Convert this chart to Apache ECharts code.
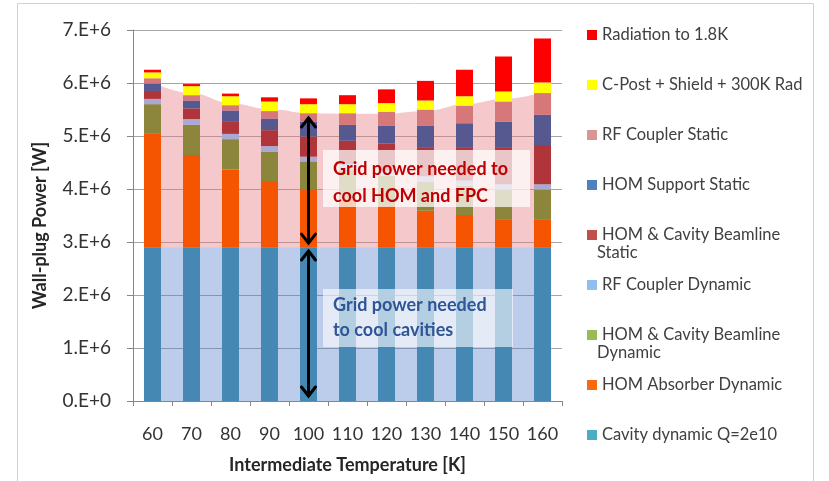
<!DOCTYPE html>
<html><head><meta charset="utf-8">
<script src="https://cdn.jsdelivr.net/npm/echarts@6/dist/echarts.min.js"></script>
<style>html,body{margin:0;padding:0;background:#fff}#c{width:829px;height:481px}</style>
</head><body><div id="c"></div>
<script>
// ---- data (W) ----
const categories = ['60','70','80','90','100','110','120','130','140','150','160'];
const cavityDynamic      = [2.90e6,2.90e6,2.90e6,2.90e6,2.90e6,2.90e6,2.90e6,2.90e6,2.90e6,2.90e6,2.90e6];
const homAbsorberDyn     = [2.14e6,1.74e6,1.47e6,1.25e6,1.08e6,0.92e6,0.80e6,0.69e6,0.61e6,0.53e6,0.53e6];
const homCavBeamlineDyn  = [0.56e6,0.57e6,0.57e6,0.55e6,0.54e6,0.55e6,0.55e6,0.55e6,0.55e6,0.56e6,0.56e6];
const rfCouplerDyn       = [0.10e6,0.11e6,0.10e6,0.11e6,0.09e6,0.10e6,0.10e6,0.10e6,0.10e6,0.10e6,0.10e6];
const homCavBeamlineStat = [0.15e6,0.20e6,0.24e6,0.30e6,0.38e6,0.44e6,0.51e6,0.55e6,0.63e6,0.70e6,0.74e6];
const homSupportStat     = [0.14e6,0.15e6,0.20e6,0.22e6,0.28e6,0.30e6,0.33e6,0.40e6,0.45e6,0.48e6,0.57e6];
const rfCouplerStat      = [0.10e6,0.10e6,0.10e6,0.14e6,0.16e6,0.22e6,0.27e6,0.31e6,0.33e6,0.38e6,0.41e6];
const cPostShieldRad     = [0.11e6,0.17e6,0.17e6,0.18e6,0.17e6,0.17e6,0.16e6,0.17e6,0.18e6,0.19e6,0.20e6];
const radiation18K       = [0.05e6,0.04e6,0.05e6,0.08e6,0.11e6,0.17e6,0.26e6,0.37e6,0.50e6,0.66e6,0.83e6];

// shaded bands (category index positions, values)
const bandX        = [-0.22, 1, 2, 3, 4, 5, 6, 7, 8, 9, 10.22];
const hotBandTop   = [6.08e6,5.81e6,5.62e6,5.51e6,5.43e6,5.42e6,5.42e6,5.47e6,5.60e6,5.70e6,5.87e6];
const coldBandTop  = 2.9e6;

const FONT = 'Lato';
const seriesDefs = [
  {name:'Cavity dynamic Q=2e10', data:cavityDynamic, color:'#4588B4', legend:'#4BACC6'},
  {name:'HOM Absorber Dynamic', data:homAbsorberDyn, color:'#F55500', legend:'#F86A10'},
  {name:'HOM & Cavity Beamline Dynamic', data:homCavBeamlineDyn, color:'#8C863C', legend:'#9BBB59', split:'Dynamic'},
  {name:'RF Coupler Dynamic', data:rfCouplerDyn, color:'#A9A9D3', legend:'#8DC0EE'},
  {name:'HOM & Cavity Beamline Static', data:homCavBeamlineStat, color:'#B0353A', legend:'#C0504D', split:'Static'},
  {name:'HOM Support Static', data:homSupportStat, color:'#55598F', legend:'#4F81BD'},
  {name:'RF Coupler Static', data:rfCouplerStat, color:'#D6777A', legend:'#D99594'},
  {name:'C-Post + Shield + 300K Rad', data:cPostShieldRad, color:'#FFFF00', legend:'#FFFF00'},
  {name:'Radiation to 1.8K', data:radiation18K, color:'#FF0000', legend:'#FF0000'}
];

const chart = echarts.init(document.getElementById('c'));

const legendOrder = seriesDefs.slice().reverse();
const legends = legendOrder.map((s, i) => ({
  orient:'vertical', left:582, top:30 + 50*i - 10,
  itemWidth:10, itemHeight:10, icon:'rect', itemGap:0,
  selectedMode:false,
  data:[{name:s.name, itemStyle:{color:s.legend}}],
  formatter: name => s.split ? name.slice(0, name.length - s.split.length - 1) : name,
  textStyle:{fontFamily:FONT, fontSize:16.5, color:'#404040', lineHeight:20}
}));

const barSeries = seriesDefs.map(s => ({
  type:'bar', name:s.name, stack:'total', data:s.data, barWidth:17,
  itemStyle:{color:s.color}, z:3, emphasis:{disabled:true}
}));

chart.setOption({
  animation:false,
  grid:{left:133, right:267, top:30, bottom:80},
  legend:legends,
  xAxis:[{
    type:'category', data:categories,
    axisLine:{onZero:false, lineStyle:{color:'#868686'}},
    axisTick:{show:true, length:5, lineStyle:{color:'#868686'}},
    axisLabel:{fontFamily:FONT, fontSize:18, color:'#333', margin:24, interval:0},
    name:'Intermediate Temperature [K]', nameLocation:'middle', nameGap:55,
    nameTextStyle:{fontFamily:FONT, fontSize:18, fontWeight:'bold', color:'#262626'}
  },{
    type:'value', min:-0.5, max:10.5, show:false
  }],
  yAxis:{
    type:'value', min:0, max:7e6, interval:1e6,
    axisLine:{show:true, onZero:false, lineStyle:{color:'#868686'}},
    axisTick:{show:true, length:6, lineStyle:{color:'#868686'}},
    splitLine:{lineStyle:{color:'#A6A6A6'}},
    axisLabel:{fontFamily:FONT, fontSize:19, color:'#333', margin:22,
      formatter: v => (v/1e6).toFixed(0) + '.E+' + (v === 0 ? '0' : '6')},
    name:'Wall-plug Power [W]', nameLocation:'middle', nameGap:84,
    nameTextStyle:{fontFamily:FONT, fontSize:18, fontWeight:'bold', color:'#262626', padding:[0,20,0,0]}
  },
  series:[
    {type:'line', xAxisIndex:1, data:bandX.map((x,i)=>[x, hotBandTop[i]]), smooth:0.4, smoothMonotone:'x',
     symbol:'none', showSymbol:false, lineStyle:{width:0, opacity:0},
     areaStyle:{color:'rgba(230,120,125,0.4)', origin:coldBandTop, opacity:1},
     z:1, silent:true, tooltip:{show:false}},
    {type:'line', xAxisIndex:1, data:[[bandX[0], coldBandTop],[bandX[bandX.length-1], coldBandTop]],
     symbol:'none', showSymbol:false, lineStyle:{width:0, opacity:0},
     areaStyle:{color:'rgba(70,120,200,0.37)', origin:'start', opacity:1},
     z:1, silent:true}
  ].concat(barSeries)
});

function px(cat, v){ return chart.convertToPixel({xAxisIndex:0, yAxisIndex:0}, [cat, v]); }
function arrow(id, top, bot){
  const x = top[0];
  const s = {stroke:'#000', lineWidth:3, fill:null, lineCap:'round', lineJoin:'miter'};
  return [
    {type:'line', id:id+'l', shape:{x1:x, y1:top[1]+1, x2:x, y2:bot[1]-1}, style:s, z:110},
    {type:'polyline', id:id+'t', shape:{points:[[x-7, top[1]+9],[x, top[1]],[x+7, top[1]+9]]}, style:s, z:110},
    {type:'polyline', id:id+'b', shape:{points:[[x-7, bot[1]-9],[x, bot[1]],[x+7, bot[1]-9]]}, style:s, z:110}
  ];
}
const a1t = px('100', 5.34e6), a1b = px('100', 2.98e6);
const a2t = px('100', 2.83e6), a2b = px('100', 0.095e6);

const secondLines = seriesDefs.filter(s => s.split).map(s => {
  const idx = legendOrder.indexOf(s);
  return {type:'text', left:597, top:30 + 50*idx + 14,
    style:{text:s.split, font:'16.5px ' + FONT, fill:'#404040'}, z:100};
});

chart.setOption({
  graphic:[
    {type:'rect', shape:{x:17.5, y:3.5, width:796, height:480}, style:{fill:null, stroke:'#D0D0D0', lineWidth:1}, z:0, silent:true},
    {type:'rect', shape:{x:323, y:150, width:207, height:57}, style:{fill:'rgba(255,255,255,0.72)'}, z:100},
    {type:'text', left:333, top:156, style:{text:'Grid power needed to\ncool HOM and FPC', font:'bold 18px ' + FONT, fill:'#C00000', lineHeight:27}, z:101},
    {type:'rect', shape:{x:323, y:289, width:190, height:58}, style:{fill:'rgba(255,255,255,0.6)'}, z:100},
    {type:'text', left:333, top:293, style:{text:'Grid power needed\nto cool cavities', font:'bold 18px ' + FONT, fill:'#2F5597', lineHeight:25}, z:101}
  ].concat(arrow('a1', a1t, a1b), arrow('a2', a2t, a2b), secondLines)
});
</script>
</body></html>
